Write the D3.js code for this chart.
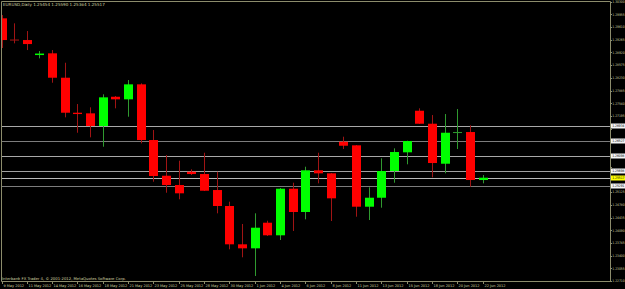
<!DOCTYPE html>
<html>
<head>
<meta charset="utf-8">
<script src="https://cdn.jsdelivr.net/npm/d3@7"></script>
<style>
body { margin: 0; background: #000; overflow: hidden; }
text { font-family: "DejaVu Sans", sans-serif; }
</style>
</head>
<body>
<svg id="chart" width="625" height="289"></svg>
<script>
// daily bars, Sunday bars included (broker feed)
var dates = ["2012-05-09","2012-05-10","2012-05-11","2012-05-13","2012-05-14","2012-05-15","2012-05-16",
  "2012-05-17","2012-05-18","2012-05-20","2012-05-21","2012-05-22","2012-05-23","2012-05-24","2012-05-25",
  "2012-05-27","2012-05-28","2012-05-29","2012-05-30","2012-05-31","2012-06-01","2012-06-03","2012-06-04",
  "2012-06-05","2012-06-06","2012-06-07","2012-06-08","2012-06-10","2012-06-11","2012-06-12","2012-06-13",
  "2012-06-14","2012-06-15","2012-06-17","2012-06-18","2012-06-19","2012-06-20","2012-06-21","2012-06-22"];

var open  = [1.29848,1.29272,1.29258,1.28850,1.28897,1.28234,1.27283,1.27266,1.26921,1.27717,1.27647,1.28054,1.26541,
  1.25571,1.25318,1.25680,1.25617,1.25182,1.24748,1.23707,1.23598,1.24294,1.23952,1.25218,1.24585,1.25718,1.25636,
  1.26495,1.26397,1.24729,1.24973,1.25699,1.26207,1.27337,1.26984,1.25897,1.26731,1.26758,1.25454];
var high  = [1.29937,1.29712,1.29503,1.28959,1.28986,1.28641,1.27519,1.27429,1.27783,1.27736,1.28171,1.28081,1.26813,
  1.26133,1.25979,1.25745,1.26196,1.25680,1.24865,1.24259,1.24549,1.24348,1.25237,1.25381,1.25816,1.26196,1.25644,
  1.26631,1.26405,1.25256,1.26044,1.26315,1.26522,1.27402,1.27220,1.27247,1.27383,1.26940,1.25590];
var low   = [1.29041,1.29168,1.28986,1.28761,1.28098,1.27158,1.26739,1.26614,1.26359,1.27402,1.27174,1.26451,1.25408,
  1.25109,1.24930,1.25590,1.25155,1.24549,1.23571,1.23354,1.22846,1.23933,1.23824,1.24069,1.24386,1.25364,1.24340,
  1.26296,1.24457,1.24367,1.24702,1.25381,1.25881,1.26976,1.25528,1.25636,1.26296,1.25272,1.25364];
var close = [1.29258,1.29244,1.29149,1.28891,1.28234,1.27283,1.27247,1.26921,1.27701,1.27647,1.28054,1.26541,1.25563,
  1.25318,1.25093,1.25617,1.25163,1.24748,1.23707,1.23598,1.24158,1.23952,1.25218,1.24585,1.25718,1.25636,1.24957,
  1.26386,1.24729,1.24973,1.25699,1.26215,1.26514,1.26984,1.25916,1.26739,1.26758,1.25454,1.25517];

var priceTicks = [1.22710,1.23055,1.23400,1.23745,1.24090,1.24435,1.24780,1.25125,1.25470,1.25815,1.26160,1.26505,
  1.26850,1.27195,1.27540,1.27885,1.28230,1.28575,1.28920,1.29265,1.29610,1.29955,1.30300];

// horizontal levels drawn on the chart
var levels = [1.26934, 1.26527, 1.26098, 1.25698, 1.25291];

var svg = d3.select("#chart");
var W = 625, H = 289, right = 610, bottom = 281;
var frameColor = "#8c8c6c", textColor = "#d4d4a4";
var upBody = "#00ff00", downBody = "#ff0000", upWick = "#2f9a2f", downWick = "#a01414";
var f5 = d3.format(".5f");
var parse = d3.timeParse("%Y-%m-%d"), fmt = d3.timeFormat("%-d %b %Y");

svg.append("rect").attr("width", W).attr("height", H).attr("fill", "#000");

var x = d3.scaleLinear().domain([0, dates.length - 1]).range([1.5, 482.6]);
var y = d3.scaleLinear().domain(d3.extent(priceTicks)).range([bottom, 1.7]);

svg.append("defs").append("clipPath").attr("id", "plot")
  .append("rect").attr("x", 1).attr("y", 1).attr("width", right - 1).attr("height", bottom - 1);

var plot = svg.append("g").attr("clip-path", "url(#plot)");

// level lines (behind the candles)
var levelColors = ["#a8a8a8", "#7c7c7c", "#a8a8a8", "#a0a0a0", "#7c7c7c"];
plot.selectAll(".level").data(levels).enter().append("line")
  .attr("x1", 1).attr("x2", right)
  .attr("y1", function(d) { return Math.round(y(d)) + 0.5; })
  .attr("y2", function(d) { return Math.round(y(d)) + 0.5; })
  .attr("stroke", function(d, i) { return levelColors[i]; })
  .attr("stroke-width", 1);

var last = close.length - 1;
plot.append("line")
  .attr("x1", 1).attr("x2", right)
  .attr("y1", Math.round(y(close[last])) + 0.5).attr("y2", Math.round(y(close[last])) + 0.5)
  .attr("stroke", "#b8b8b8");

var bars = d3.range(dates.length).map(function(i) {
  return { i: i, o: open[i], h: high[i], l: low[i], c: close[i] };
});

var candle = plot.selectAll(".candle").data(bars).enter().append("g");

candle.append("line")
  .attr("x1", function(d) { return Math.round(x(d.i)) + 0.5; })
  .attr("x2", function(d) { return Math.round(x(d.i)) + 0.5; })
  .attr("y1", function(d) { return y(d.h); })
  .attr("y2", function(d) { return y(d.l); })
  .attr("stroke", function(d) { return d.c >= d.o ? upWick : downWick; });

candle.append("rect")
  .attr("x", function(d) { return Math.round(x(d.i)) - 4; })
  .attr("width", 9)
  .attr("y", function(d) { return y(Math.max(d.o, d.c)); })
  .attr("height", function(d) { return Math.max(1, Math.abs(y(d.o) - y(d.c))); })
  .attr("fill", function(d) {
    var flat = Math.abs(y(d.o) - y(d.c)) < 1.2;
    if (d.c >= d.o) return flat ? upWick : upBody;
    return flat ? downWick : downBody;
  });

// frame
svg.append("path")
  .attr("d", "M1.5,281.5V1.5H" + (right + 0.5) + "V281.5H1.5")
  .attr("fill", "none").attr("stroke", frameColor);

// price axis; labels hidden under a level tag are skipped
var tagged = levels.concat([close[last]]);
var shownTicks = priceTicks.filter(function(t) {
  return tagged.every(function(v) { return Math.abs(y(v) - y(t)) > 5; });
});
var yt = svg.append("g");
yt.selectAll("line").data(priceTicks).enter().append("line")
  .attr("x1", right).attr("x2", right + 2)
  .attr("y1", function(d) { return Math.round(y(d)) + 0.5; })
  .attr("y2", function(d) { return Math.round(y(d)) + 0.5; })
  .attr("stroke", frameColor);
yt.selectAll("text").data(shownTicks).enter().append("text")
  .attr("x", right + 2.3).attr("y", function(d) { return y(d) + 1.3; })
  .attr("font-size", 3.4).attr("fill", textColor)
  .attr("textLength", 12.3).attr("lengthAdjust", "spacingAndGlyphs")
  .text(function(d) { return f5(d); });

// level and bid labels
function tag(v, bg) {
  var g = svg.append("g").attr("transform", "translate(" + (right + 1) + "," + Math.round(y(v)) + ")");
  g.append("rect").attr("x", 0).attr("y", -2.5).attr("width", 15).attr("height", 5).attr("fill", bg);
  g.append("text").attr("x", 1.2).attr("y", 1.3).attr("font-size", 3.4).attr("fill", "#000")
    .attr("textLength", 12.3).attr("lengthAdjust", "spacingAndGlyphs").text(f5(v));
}
levels.forEach(function(v) { tag(v, "#f4f4f4"); });
tag(close[last], "#ffff00");

// time axis
var tIdx = d3.range(0, dates.length, 2);
var xt = svg.append("g");
xt.selectAll("line").data(tIdx).enter().append("line")
  .attr("x1", function(i) { return Math.round(x(i)) + 0.5; })
  .attr("x2", function(i) { return Math.round(x(i)) + 0.5; })
  .attr("y1", bottom).attr("y2", bottom + 3)
  .attr("stroke", frameColor);
xt.selectAll("text").data(tIdx).enter().append("text")
  .attr("x", function(i) { return Math.round(x(i)) + 1.5; })
  .attr("y", 287.3)
  .attr("font-size", 3.5).attr("fill", textColor)
  .text(function(i) { return fmt(parse(dates[i])); });

// title and copyright
svg.append("text").attr("x", 3).attr("y", 6).attr("font-size", 4.1).attr("fill", textColor)
  .text("EURUSD,Daily " + [open[last], high[last], low[last], close[last]].map(f5).join(" "));
svg.append("text").attr("x", 2).attr("y", 279.6).attr("font-size", 3.8).attr("fill", textColor)
  .text("Interbank FX Trader 4, \u00a9 2001-2012, MetaQuotes Software Corp.");
</script>
</body>
</html>
